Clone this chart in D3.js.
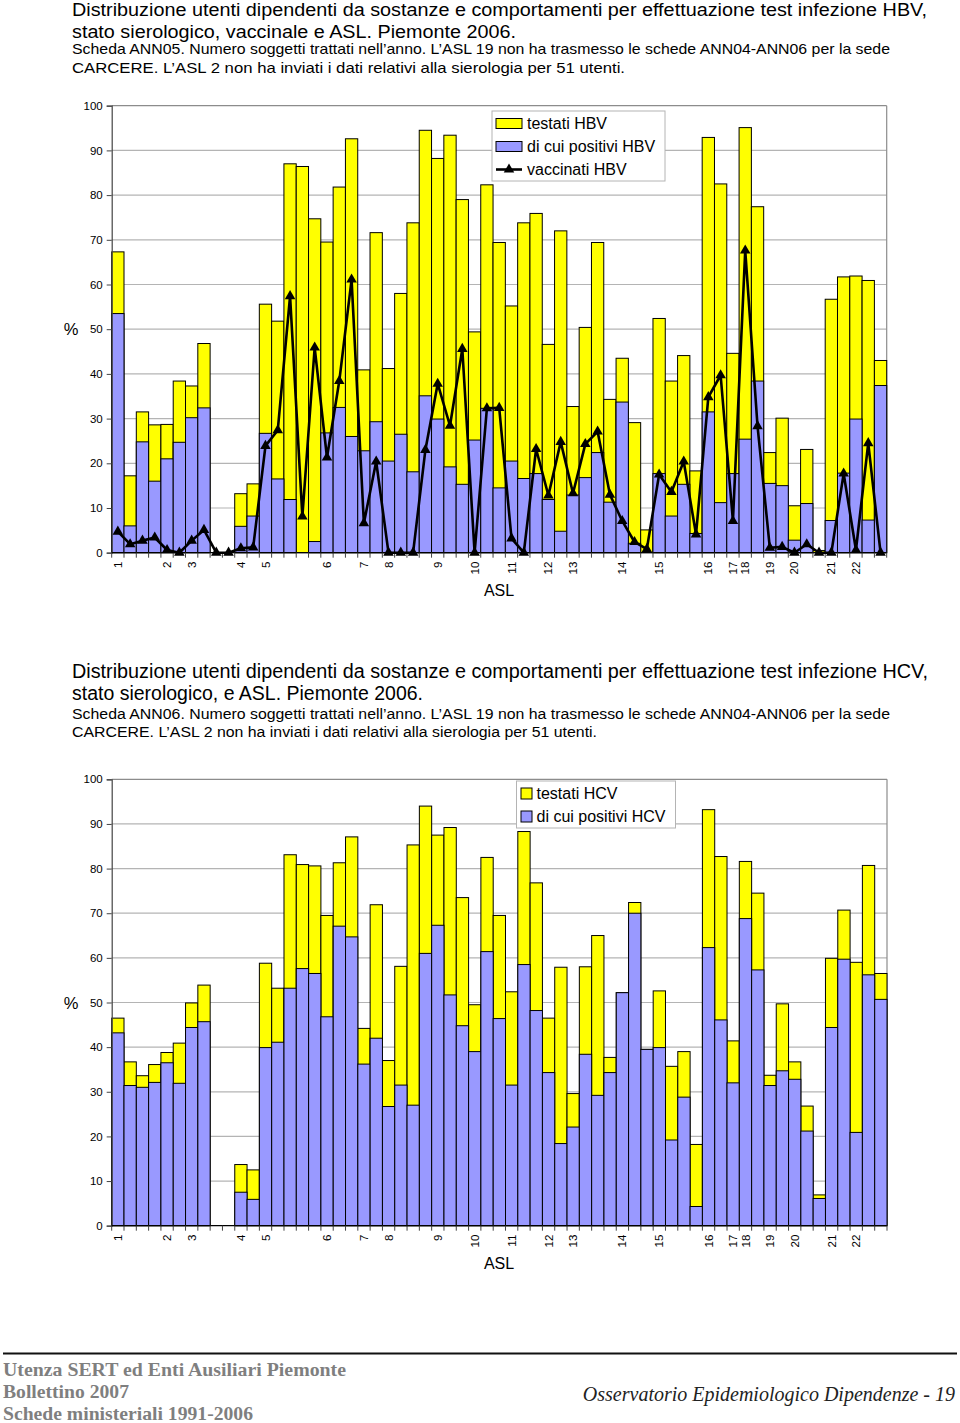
<!DOCTYPE html>
<html><head><meta charset="utf-8">
<script src="https://cdn.jsdelivr.net/npm/d3@7"></script>
<style>body{margin:0;background:#fff} svg{display:block}</style>
</head><body>
<svg id="c" width="960" height="1423"></svg>
<script>
// ---- data ----
const slotLabels = ["1","","","","2","","3","","","","4","","5","","","","","6","","","7","","8","","","","9","","","10","","","11","","","12","","13","","","","14","","","15","","","","16","","17","18","","19","","20","","","21","","22","",""];
const hbvTestati = [67.3,17.2,31.5,28.6,28.7,38.4,37.3,46.8,null,null,13.2,15.4,55.6,51.8,87.0,86.4,74.7,69.5,81.8,92.6,40.9,71.6,41.2,58.0,73.8,94.5,88.2,93.4,79.0,49.4,82.3,69.4,55.2,73.8,75.9,46.6,72.0,32.7,50.4,69.4,34.3,43.5,29.1,5.1,52.4,38.4,44.1,18.3,92.9,82.5,44.6,95.1,77.4,22.4,30.1,10.5,23.1,0.5,56.7,61.7,61.9,60.9,43.0];
const hbvPositivi = [53.5,6.0,24.8,16.0,21.0,24.7,30.2,32.4,null,null,5.9,8.2,26.7,16.5,11.9,0,2.5,26.8,32.5,26.0,22.8,29.3,20.5,26.5,18.1,35.1,29.9,19.2,15.3,25.2,32.3,14.5,20.5,16.6,17.7,11.9,4.8,12.9,16.8,22.4,11.3,33.7,2.1,0,17.7,8.2,15.3,4.3,31.5,11.2,17.7,25.4,38.4,15.5,15.0,2.8,11.0,0,7.2,17.8,29.9,7.3,37.4];
const hbvVaccinati = [4.7,1.9,2.7,3.4,0.6,0,2.7,5.1,0,0,1.0,1.2,23.9,27.4,57.4,8.1,45.9,21.3,38.4,61.1,6.6,20.4,0,0,0,23.0,37.8,28.4,45.6,0,32.3,32.4,3.2,0,23.2,12.8,24.8,13.3,24.3,27.1,13.0,7.1,2.4,0.8,17.5,13.6,20.4,4.1,34.8,39.7,7.1,67.6,28.3,1.1,1.3,0,1.9,0,0,17.7,0.6,24.5,0];
const hcvTestati = [46.5,36.7,33.6,36.1,38.8,40.9,49.9,53.9,null,null,13.7,12.5,58.8,53.2,83.1,80.9,80.6,69.5,81.3,87.1,44.2,71.9,37.0,58.1,85.3,94.0,87.5,89.2,73.5,49.5,82.5,69.5,52.4,88.3,76.8,46.5,57.9,29.6,58.0,65.0,37.7,52.2,72.4,39.5,52.6,35.7,39.0,18.2,93.2,82.7,41.4,81.6,74.5,33.7,49.7,36.7,26.8,6.9,59.9,70.7,59.0,80.7,56.5];
const hcvPositivi = [43.2,31.4,31.0,32.1,36.5,31.9,44.4,45.7,null,null,7.5,5.9,39.9,41.1,53.2,57.6,56.5,46.8,67.1,64.7,36.2,42.0,26.7,31.5,27.0,61.0,67.3,51.7,44.8,39.0,61.4,46.4,31.5,58.5,48.2,34.3,18.4,22.1,38.4,29.2,34.3,52.2,70.0,39.5,39.9,19.2,28.8,4.3,62.3,46.1,32.0,68.8,57.3,31.4,34.7,32.8,21.2,6.1,44.4,59.7,20.9,56.2,50.7];
const yTicks = [0,10,20,30,40,50,60,70,80,90,100];
const legendHBV = ["testati HBV","di cui positivi HBV","vaccinati HBV"];
const legendHCV = ["testati HCV","di cui positivi HCV"];
const titleHBV = ["Distribuzione utenti dipendenti da sostanze e comportamenti per effettuazione test infezione HBV,",
  "stato sierologico, vaccinale e ASL. Piemonte 2006.",
  "Scheda ANN05. Numero soggetti trattati nell’anno. L’ASL 19 non ha trasmesso le schede ANN04-ANN06 per la sede",
  "CARCERE. L’ASL 2 non ha inviati i dati relativi alla sierologia per 51 utenti."];
const titleHCV = ["Distribuzione utenti dipendenti da sostanze e comportamenti per effettuazione test infezione HCV,",
  "stato sierologico, e ASL. Piemonte 2006.",
  "Scheda ANN06. Numero soggetti trattati nell’anno. L’ASL 19 non ha trasmesso le schede ANN04-ANN06 per la sede",
  "CARCERE. L’ASL 2 non ha inviati i dati relativi alla sierologia per 51 utenti."];
const footerLeft = ["Utenza SERT ed Enti Ausiliari Piemonte","Bollettino 2007","Schede ministeriali 1991-2006"];
const footerRight = "Osservatorio Epidemiologico Dipendenze - 19";

const YELLOW = "#ffff00", BLUE = "#9999ff";
const svg = d3.select("#c");
const FONT = "'Liberation Sans', Arial, sans-serif";

function titleBlock(lines, y0s, sizes, widths){
  lines.forEach((t,i)=>{
    const el = svg.append("text").attr("x",72).attr("y",y0s[i])
      .attr("font-family",FONT).attr("font-size",sizes[i]).attr("fill","#000").text(t);
    if(widths[i]) el.attr("textLength",widths[i]).attr("lengthAdjust","spacingAndGlyphs");
  });
}
titleBlock(titleHBV,[15.5,37.5,54,72.5],[17.5,17.5,14.5,14.5],[855,444,818,553]);
titleBlock(titleHCV,[677.5,700,719,737],[19.5,19.5,15.5,15.5],[856,351,818,525]);

function chart(opt){
  const {top,bottom,left,right,testati,positivi,vacc,legend,legendBox} = opt;
  const idx = d3.range(slotLabels.length);
  const x = d3.scaleBand().domain(idx).range([left,right]).padding(0);
  const y = d3.scaleLinear().domain([0,100]).range([bottom,top]);
  const g = svg.append("g");
  // gridlines
  g.append("g").selectAll("line").data(yTicks.slice(1)).join("line")
    .attr("x1",left).attr("x2",right).attr("y1",d=>y(d)).attr("y2",d=>y(d))
    .attr("stroke",d=>d===100?"#8c8c8c":"#b4b4b4").attr("stroke-width",1.2);
  g.append("line").attr("x1",right).attr("x2",right).attr("y1",top).attr("y2",bottom)
    .attr("stroke","#8c8c8c").attr("stroke-width",1.2);
  // bars
  g.append("g").selectAll("rect").data(idx.filter(i=>testati[i]!=null)).join("rect")
    .attr("x",i=>x(i)).attr("width",x.bandwidth())
    .attr("y",i=>y(testati[i])).attr("height",i=>y(0)-y(testati[i]))
    .attr("fill",YELLOW).attr("stroke","#000").attr("stroke-width",1);
  g.append("g").selectAll("rect").data(idx.filter(i=>positivi[i]!=null && positivi[i]>0)).join("rect")
    .attr("x",i=>x(i)).attr("width",x.bandwidth())
    .attr("y",i=>y(positivi[i])).attr("height",i=>y(0)-y(positivi[i]))
    .attr("fill",BLUE).attr("stroke","#000").attr("stroke-width",1);
  // axes
  const ya = d3.axisLeft(y).tickValues(yTicks).tickSize(5).tickPadding(4).tickFormat(d3.format("d"));
  const yg = g.append("g").attr("transform",`translate(${left},0)`).call(ya);
  yg.select(".domain").attr("stroke","#444").attr("stroke-width",1.2);
  yg.selectAll(".tick line").attr("stroke","#444");
  yg.selectAll("text").attr("font-family",FONT).attr("font-size",11.5).attr("fill","#000");
  // x axis: ticks at every slot boundary
  const bounds = idx.map(i=>x(i)).concat([right]);
  g.append("line").attr("x1",left).attr("x2",right).attr("y1",bottom).attr("y2",bottom)
    .attr("stroke","#000").attr("stroke-width",1.2);
  g.append("g").selectAll("line").data(bounds).join("line")
    .attr("x1",d=>d).attr("x2",d=>d).attr("y1",bottom).attr("y2",bottom+5)
    .attr("stroke","#444").attr("stroke-width",1);
  g.append("g").selectAll("text").data(idx.filter(i=>slotLabels[i]!=="")).join("text")
    .attr("transform",i=>`translate(${x(i)+x.bandwidth()/2},${bottom+9}) rotate(-90)`)
    .attr("text-anchor","end").attr("dy","0.35em")
    .attr("font-family",FONT).attr("font-size",11.5).text(i=>slotLabels[i]);
  // axis titles
  g.append("text").attr("x",71).attr("y",(top+bottom)/2+6).attr("text-anchor","middle")
    .attr("font-family",FONT).attr("font-size",16.5).text("%");
  g.append("text").attr("x",499).attr("y",bottom+43).attr("text-anchor","middle")
    .attr("font-family",FONT).attr("font-size",16).text("ASL");
  // line
  if(vacc){
    const line = d3.line().x(i=>x(i)+x.bandwidth()/2).y(i=>y(vacc[i]));
    g.append("path").datum(idx).attr("d",line).attr("fill","none")
      .attr("stroke","#000").attr("stroke-width",2.6).attr("stroke-linejoin","round");
    const tri = d3.symbol().type(d3.symbolTriangle).size(48);
    g.append("g").selectAll("path").data(idx).join("path")
      .attr("transform",i=>`translate(${x(i)+x.bandwidth()/2},${y(vacc[i])})`)
      .attr("d",tri).attr("fill","#000");
  }
  // legend
  const lb = legendBox;
  const lg = svg.append("g");
  lg.append("rect").attr("x",lb.x).attr("y",lb.y).attr("width",lb.w).attr("height",lb.h)
    .attr("fill","#fff").attr("stroke","#b4b4b4").attr("stroke-width",1);
  legend.forEach((t,i)=>{
    const cy = lb.y + lb.first + i*lb.step;
    if(i<2){
      lg.append("rect").attr("x",lb.x+lb.sx).attr("y",cy-lb.sh/2).attr("width",lb.sw).attr("height",lb.sh)
        .attr("fill",i===0?YELLOW:BLUE).attr("stroke","#000").attr("stroke-width",1);
    } else {
      lg.append("line").attr("x1",lb.x+lb.sx).attr("x2",lb.x+lb.sx+lb.sw).attr("y1",cy).attr("y2",cy)
        .attr("stroke","#000").attr("stroke-width",2.6);
      lg.append("path").attr("transform",`translate(${lb.x+lb.sx+lb.sw/2},${cy})`)
        .attr("d",d3.symbol().type(d3.symbolTriangle).size(48)).attr("fill","#000");
    }
    lg.append("text").attr("x",lb.x+lb.tx).attr("y",cy).attr("dy","0.36em")
      .attr("font-family",FONT).attr("font-size",16).text(t);
  });
}

chart({top:105.7,bottom:552.7,left:111.7,right:886.7,
  testati:hbvTestati,positivi:hbvPositivi,vacc:hbvVaccinati,legend:legendHBV,
  legendBox:{x:492,y:111,w:173,h:70,first:12.5,step:23,sx:4,sw:26,sh:10,tx:35}});
chart({top:779.3,bottom:1225.7,left:111.7,right:887,
  testati:hcvTestati,positivi:hcvPositivi,vacc:null,legend:legendHCV,
  legendBox:{x:516.5,y:781,w:159,h:47,first:12.5,step:23,sx:4.5,sw:11,sh:11,tx:20}});

// footer
svg.append("line").attr("x1",3).attr("x2",957).attr("y1",1353.5).attr("y2",1353.5)
  .attr("stroke","#111").attr("stroke-width",2);
const footW = [343,126,250];
footerLeft.forEach((t,i)=>{
  svg.append("text").attr("x",3).attr("y",1376+i*22).attr("font-family","'Liberation Serif','Times New Roman',serif")
    .attr("font-weight","bold").attr("font-size",19.5).attr("fill","#7f7f7f")
    .attr("textLength",footW[i]).attr("lengthAdjust","spacingAndGlyphs").text(t);
});
svg.append("text").attr("x",955).attr("y",1401).attr("text-anchor","end")
  .attr("font-family","'Liberation Serif','Times New Roman',serif").attr("font-style","italic")
  .attr("font-size",20).attr("fill","#222").text(footerRight);
</script>
</body></html>
